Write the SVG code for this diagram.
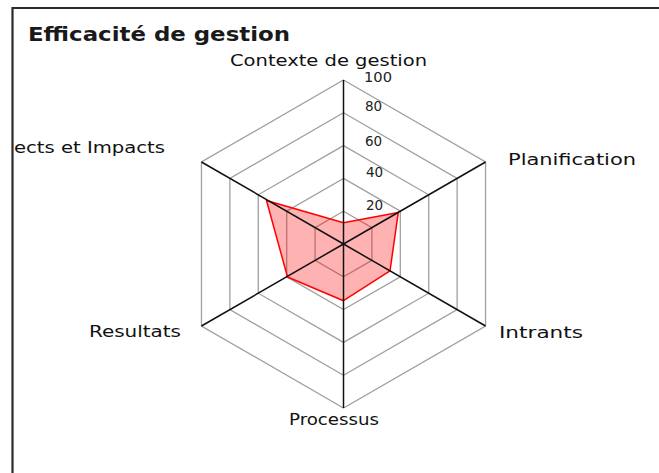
<svg xmlns="http://www.w3.org/2000/svg" width="659" height="473" viewBox="0 0 659 473">
<style>
.frame{stroke:#2a2a2a;stroke-width:2.2;fill:none}
.ring{fill:none;stroke:#a0a0a0;stroke-width:1.3}
.axis{stroke:#111;stroke-width:1.5}
.data{fill:#ff0000;fill-opacity:0.3;stroke:#ff0000;stroke-width:1.5;stroke-linejoin:round}
.title{font-family:"DejaVu Sans","Liberation Sans",sans-serif;font-size:20px;font-weight:bold;fill:#1a1a1a}
.lbl{font-family:"DejaVu Sans","Liberation Sans",sans-serif;font-size:16px;fill:#111}
.tick{font-family:"DejaVu Sans","Liberation Sans",sans-serif;font-size:13.5px;fill:#222}
</style>
<rect width="659" height="473" fill="#fff"/>
<g id="frame">
<line class="frame" x1="12.5" y1="8" x2="659" y2="8"/>
<line class="frame" x1="12.5" y1="7" x2="12.5" y2="473"/>
</g>
<text id="title" class="title" x="28" y="41" textLength="262" lengthAdjust="spacingAndGlyphs">Efficacité de gestion</text>
<g id="grid">
<polygon class="ring" points="343.5,211.2 371.91,227.6 371.91,260.4 343.5,276.8 315.09,260.4 315.09,227.6"/>
<polygon class="ring" points="343.5,178.4 400.31,211.2 400.31,276.8 343.5,309.6 286.69,276.8 286.69,211.2"/>
<polygon class="ring" points="343.5,145.6 428.72,194.8 428.72,293.2 343.5,342.4 258.28,293.2 258.28,194.8"/>
<polygon class="ring" points="343.5,112.8 457.12,178.4 457.12,309.6 343.5,375.2 229.88,309.6 229.88,178.4"/>
<polygon class="ring" points="343.5,80 485.53,162 485.53,326 343.5,408 201.47,326 201.47,162"/>
</g>
<g id="series">
<polygon class="data" points="343.5,222.7 398.3,212.4 390,270.8 343.5,300.7 287.5,277 266.5,200.5"/>
</g>
<g id="connectors">
<line class="axis" x1="343.5" y1="244" x2="343.5" y2="80"/>
<line class="axis" x1="343.5" y1="244" x2="485.53" y2="162"/>
<line class="axis" x1="343.5" y1="244" x2="485.53" y2="326"/>
<line class="axis" x1="343.5" y1="244" x2="343.5" y2="408"/>
<line class="axis" x1="343.5" y1="244" x2="201.47" y2="326"/>
<line class="axis" x1="343.5" y1="244" x2="201.47" y2="162"/>
</g>
<g id="ticks">
<text class="tick" x="366" y="210">20</text>
<text class="tick" x="366" y="177">40</text>
<text class="tick" x="365" y="146">60</text>
<text class="tick" x="365" y="111">80</text>
<text class="tick" x="364" y="82" font-size="12" textLength="28" lengthAdjust="spacingAndGlyphs">100</text>
</g>
<g id="node-contexte"><text class="lbl" x="230" y="66" textLength="197" lengthAdjust="spacingAndGlyphs">Contexte de gestion</text></g>
<g id="node-planification"><text class="lbl" x="508" y="165" textLength="128" lengthAdjust="spacingAndGlyphs">Planification</text></g>
<g id="node-intrants"><text class="lbl" x="499" y="338" textLength="84" lengthAdjust="spacingAndGlyphs">Intrants</text></g>
<g id="node-processus"><text class="lbl" x="289" y="425" textLength="90" lengthAdjust="spacingAndGlyphs">Processus</text></g>
<g id="node-resultats"><text class="lbl" x="89" y="337" textLength="92" lengthAdjust="spacingAndGlyphs">Resultats</text></g>
<g id="node-effects"><text class="lbl" x="14" y="153" textLength="151" lengthAdjust="spacingAndGlyphs">ects et Impacts</text></g>
</svg>
